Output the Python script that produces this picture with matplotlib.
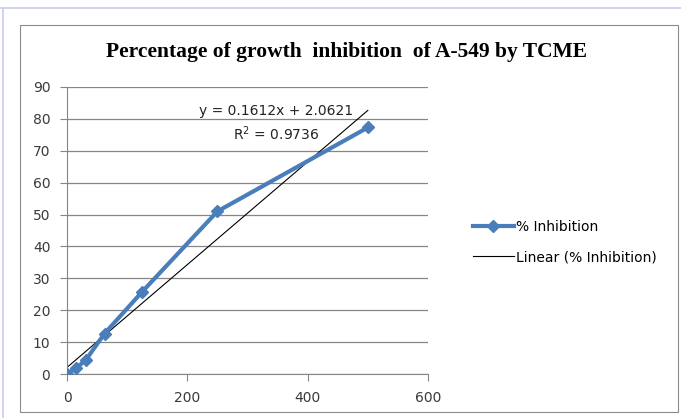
import numpy as np
import matplotlib.pyplot as plt
from matplotlib.lines import Line2D
from matplotlib.patches import Rectangle

# concentrations (ug/ml) and % inhibition
conc = [0, 15.625, 31.25, 62.5, 125, 250, 500]
inhibition = [0, 1.9, 4.4, 12.7, 25.8, 51.0, 77.3]

# excel trendline shown on the chart
fit_slope = 0.1612
fit_intercept = 2.0621
fit_r2 = 0.9736

x_ticks = [0, 200, 400, 600]
y_ticks = [0, 10, 20, 30, 40, 50, 60, 70, 80, 90]

blue = '#4a7ebb'
grid = '#868686'

fig = plt.figure(figsize=(6.81, 4.18), dpi=100)
W, H = 681, 418

# outer borders of the screenshot
fig.add_artist(Line2D([0, 1], [1 - 8 / H, 1 - 8 / H], color='#c9cdf0', lw=1.2))
fig.add_artist(Line2D([3 / W, 3 / W], [0, 1 - 8 / H], color='#c9cdf0', lw=1.2))
fig.add_artist(Rectangle((20 / W, 6 / H), 658 / W, 387 / H, fill=False,
                         edgecolor='#8c8c8c', lw=0.8))

ax = fig.add_axes([67 / W, 44 / H, 361 / W, 287 / H])

xfit = np.array([conc[0], conc[-1]])
ax.plot(xfit, fit_slope * xfit + fit_intercept, color='black', lw=0.8,
        label='Linear (% Inhibition)', zorder=2)
ax.plot(conc, inhibition, color=blue, lw=3, marker='D', markersize=6,
        label='% Inhibition', zorder=3)

ax.set_xlim(0, 600)
ax.set_ylim(0, 90)
ax.set_xticks(x_ticks)
ax.set_yticks(y_ticks)
ax.yaxis.grid(True, color=grid, lw=0.9)
ax.set_axisbelow(True)
for s in ['top', 'right']:
    ax.spines[s].set_visible(False)
for s in ['left', 'bottom']:
    ax.spines[s].set_color(grid)
ax.tick_params(axis='both', colors=grid, labelcolor='#3a3a3a', labelsize=10,
               length=5, pad=7)

ax.text(347, 82.4, 'y = %.4fx + %.4f' % (fit_slope, fit_intercept),
        ha='center', va='center', fontsize=10, color='#222222')
ax.text(347, 75.4, 'R$^2$ = %.4f' % fit_r2,
        ha='center', va='center', fontsize=10, color='#222222')

fig.text(347 / W, 1 - 52 / H, 'Percentage of growth  inhibition  of A-549 by TCME',
         ha='center', va='center', fontsize=15.5, fontweight='bold',
         family='Liberation Serif')

h, l = ax.get_legend_handles_labels()
fig.legend(h[::-1], l[::-1], loc='center left', bbox_to_anchor=(460 / W, 1 - 242 / H),
           frameon=False, fontsize=10, handlelength=3, handletextpad=0.1,
           labelspacing=1.2)

plt.savefig('out.png', dpi=100)
